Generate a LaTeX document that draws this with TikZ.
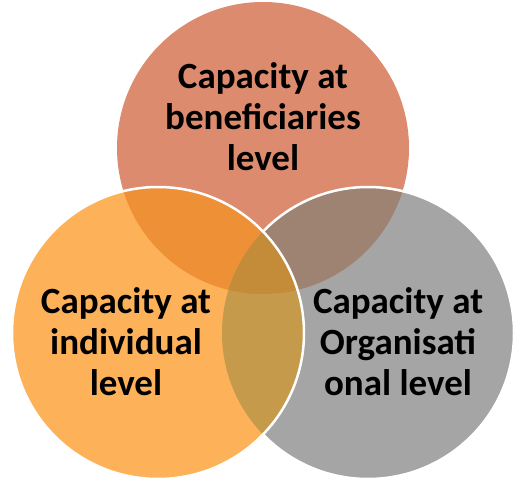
\documentclass[tikz,border=0pt]{standalone}
\usepackage{fontspec}
\setmainfont{Carlito}
\definecolor{cT}{HTML}{DD8B6E}
\definecolor{cL}{HTML}{FDB25A}
\definecolor{cR}{HTML}{A5A5A5}
\definecolor{cTL}{HTML}{EE9035}
\definecolor{cTR}{HTML}{9E8272}
\definecolor{cLR}{HTML}{C59A4A}
\definecolor{cTLR}{HTML}{C48C38}
\begin{document}
\begin{tikzpicture}[x=1pt,y=-1pt,
  rim/.style={draw=white,line width=2.5pt},
  lbl/.style={font=\fontsize{37}{41}\selectfont\bfseries,align=center,inner sep=0pt,anchor=base}]
\useasboundingbox (0,0) rectangle (530,489);
\def\Tc{(263,148)}
\def\Lc{(158,333)}
\def\Rc{(368,333)}
\def\rr{146}
% top circle
\fill[cT] \Tc circle (\rr);
% right circle
\fill[cR] \Rc circle (\rr);
\begin{scope}
  \clip \Rc circle (\rr);
  \fill[cTR] \Tc circle (\rr);
\end{scope}
\draw[rim] \Rc circle (\rr);
% left circle
\fill[cL] \Lc circle (\rr);
\begin{scope}
  \clip \Lc circle (\rr);
  \fill[cTL] \Tc circle (\rr);
  \fill[cLR] \Rc circle (\rr);
  \clip \Rc circle (\rr);
  \fill[cTLR] \Tc circle (\rr);
\end{scope}
\draw[rim] \Lc circle (\rr);
% labels
\node[lbl] (tlab) at (263,171) {Capacity at\\beneficiaries\\level};
\node[lbl] (llab) at (126,395) {Capacity at\\individual\\level};
\node[lbl] (rlab) at (398,395) {Capacity at\\Organisati\\onal level};
\end{tikzpicture}
\end{document}
